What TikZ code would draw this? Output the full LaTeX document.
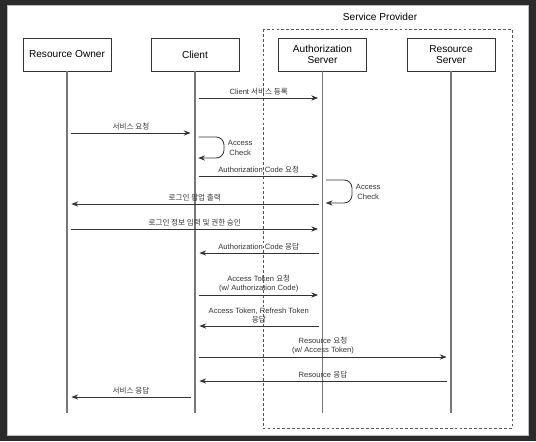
\documentclass[tikz,border=0pt]{standalone}
\usepackage{fontspec}
\setmainfont{Liberation Sans}
\newfontfamily\krfont{Noto Sans CJK KR}
\newcommand{\kr}[1]{{\krfont #1}}
\usepackage{tikz}
\usetikzlibrary{arrows.meta,calc}

\definecolor{screenbg}{HTML}{2B2B2B}
\definecolor{linegray}{HTML}{333333}
\definecolor{lifegray}{HTML}{777777}
\definecolor{dashgray}{HTML}{555555}

\tikzset{
  actor/.style={draw=linegray, fill=white, minimum width=2.2cm, minimum height=0.825cm,
    align=center, font=\fontsize{7.2}{7.8}\selectfont, inner sep=1pt},
  life/.style={lifegray, line width=1pt},
  msg/.style={linegray, line width=0.6pt, -{Stealth[length=0.17cm,width=0.13cm]},
    shorten <=0.09cm, shorten >=0.11cm},
  selfmsg/.style={msg, rounded corners=0.2cm, shorten >=0.08cm},
  lbl/.style={font=\fontsize{5.4}{7}\selectfont, text=linegray, align=center, inner sep=1.5pt},
  spbox/.style={dashgray, line width=0.6pt, dash pattern=on 2pt off 1.5pt}
}

\begin{document}
\begin{tikzpicture}[x=0.025cm,y=-0.025cm]
% screen and panel
\fill[screenbg] (0,0) rectangle (536,441);
\fill[white] (7,5) rectangle (528,435);
\draw[gray!50] (7,5) rectangle (528,435);

% service provider group
\draw[spbox] (263,29) rectangle (512,428);
\node[font=\fontsize{7.2}{8}\selectfont] (sptitle) at (380,17) {Service Provider};

% participants
\node[actor] (ro) at (67,54.5) {Resource Owner};
\node[actor] (cl) at (195,54.5) {Client};
\node[actor] (as) at (322.5,54.5) {Authorization\\Server};
\node[actor] (rs) at (451,54.5) {Resource\\Server};

\coordinate (roend) at (67,413);
\coordinate (clend) at (195,413);
\coordinate (asend) at (322.5,413);
\coordinate (rsend) at (451,413);

\draw[life] (ro.south) -- (roend);
\draw[life] (cl.south) -- (clend);
\draw[life] (as.south) -- (asend);
\draw[life] (rs.south) -- (rsend);

% messages
\draw[msg] (cl |- 0,98) -- node[lbl,above] {Client \kr{서비스 등록}} (as |- 0,98);
\draw[msg] (ro |- 0,133) -- node[lbl,above] {\kr{서비스 요청}} (cl |- 0,133);
\draw[selfmsg] (cl |- 0,137) -- ++(29,0) |- node[pos=0.25,lbl,right,xshift=1pt] {Access\\Check} (cl |- 0,158);
\draw[msg] (cl |- 0,176) -- node[lbl,above] {Authorization Code \kr{요청}} (as |- 0,176);
\draw[selfmsg] (as |- 0,180) -- ++(29.5,0) |- node[pos=0.25,lbl,right,xshift=1pt] {Access\\Check} (as |- 0,203);
\draw[msg] (as |- 0,204) -- node[lbl,above] {\kr{로그인 팝업 출력}} (ro |- 0,204);
\draw[msg] (ro |- 0,229) -- node[lbl,above] {\kr{로그인 정보 입력 및 권한 승인}} (as |- 0,229);
\draw[msg] (as |- 0,253) -- node[lbl,above] {Authorization Code \kr{응답}} (cl |- 0,253);
\draw[msg] (cl |- 0,295) -- node[lbl,above] {Access Token \kr{요청}\\(w/ Authorization Code)} (as |- 0,295);
\draw[msg] (as |- 0,326) -- node[lbl,above] {Access Token, Refresh Token\\\kr{응답}} (cl |- 0,326);
\draw[msg] (cl |- 0,357) -- node[lbl,above] {Resource \kr{요청}\\(w/ Access Token)} (rs |- 0,357);
\draw[msg] (rs |- 0,381) -- node[lbl,above] {Resource \kr{응답}} (cl |- 0,381);
\draw[msg] (cl |- 0,397) -- node[lbl,above] {\kr{서비스 응답}} (ro |- 0,397);
\end{tikzpicture}
\end{document}
